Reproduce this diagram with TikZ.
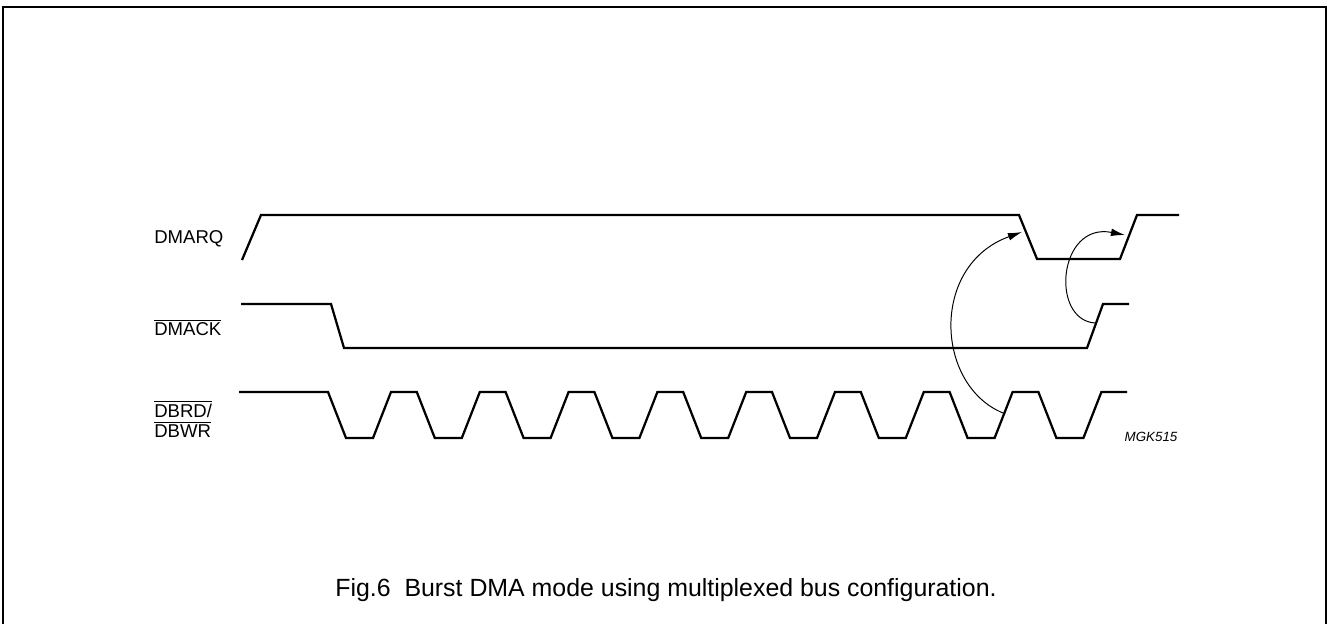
\documentclass[tikz,border=0pt]{standalone}
\usepackage{fontspec}
\setmainfont{Liberation Sans}
\usetikzlibrary{arrows.meta}
\newcommand{\barred}[1]{\ensuremath{\overline{\mbox{#1}}}}
\tikzset{
	signal/.style={line width=1.6pt, line join=miter},
	cause/.style={line width=0.7pt, -{Latex[length=10pt,width=5.5pt]}},
	siglabel/.style={anchor=base west, inner sep=0pt, font=\fontsize{13.2}{15}\selectfont}
}

\begin{document}
\begin{tikzpicture}[x=0.025cm,y=-0.025cm]
		\useasboundingbox (0,0) rectangle (1329,624);
		\draw[line width=1pt] (3,640) -- (3,7) -- (1326,7) -- (1326,640);
		% signal names
		\node[siglabel] (rqlbl) at (154,243) {DMARQ};
		\node[siglabel] (acklbl) at (154,335) {\barred{DMACK}};
		\node[siglabel] (rdlbl) at (154,417) {\barred{DBRD/}};
		\node[siglabel] (wrlbl) at (154,437) {\barred{DBWR}};
		% waveforms
		\draw[signal] (242,260) -- (261,215) -- (1019,215) -- (1037,259) -- (1120,259) -- (1137,215) -- (1179,215);
		\draw[signal] (241,304) -- (331,304) -- (344,348) -- (1087,348) -- (1103,304) -- (1129,304);
		\draw[signal] (239,392) -- (328,392)
			\foreach \i in {0,...,8} { -- ++(18,46) -- ++(27,0) -- ++(18,-46) -- ++(25.8,0) };
		% edges that start and end the arrows
		\coordinate (rdrise) at (1003,413);
		\coordinate (rqfall) at (1022,232);
		\coordinate (ackrise) at (1095,323);
		\coordinate (rqrise) at (1125,235);
		\draw[cause] (rdrise) .. controls (935,385) and (930,265) .. (rqfall);
		\draw[cause] (ackrise) .. controls (1050,320) and (1058,222) .. (rqrise);
		\node[font=\fontsize{9.5}{11}\selectfont\itshape] (code) at (1151,437) {MGK515};
		\node[anchor=base, inner sep=0pt, font=\fontsize{17.7}{21}\selectfont] (caption) at (666,596) {Fig.6\ \ Burst DMA mode using multiplexed bus configuration.};
	\end{tikzpicture}
\end{document}
